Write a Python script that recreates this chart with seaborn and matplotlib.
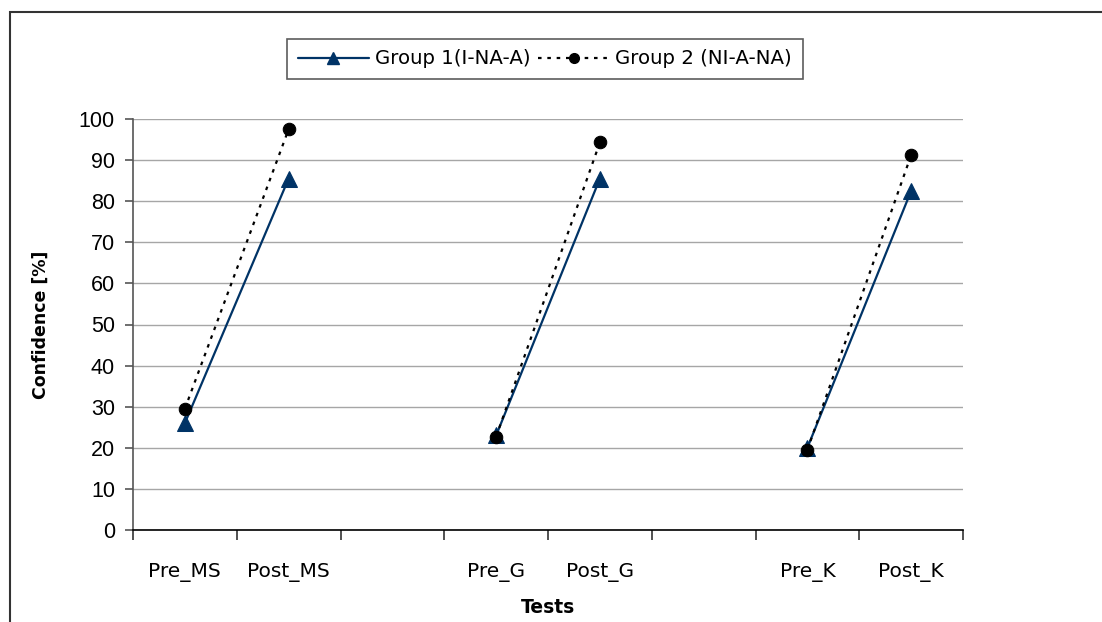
import numpy as np
import pandas as pd
import matplotlib
matplotlib.use("Agg")
import matplotlib.pyplot as plt
import seaborn as sns
from matplotlib.patches import Rectangle
from matplotlib.lines import Line2D

# ---- data ----
categories = ["Pre_MS", "Post_MS", "", "Pre_G", "Post_G", "", "Pre_K", "Post_K"]
group1 = [26.0, 85.5, None, 23.0, 85.5, None, 20.0, 82.5]
group2 = [29.5, 97.5, None, 22.7, 94.3, None, 19.5, 91.2]
series_names = ["Group 1(I-NA-A)", "Group 2 (NI-A-NA)"]
y_ticks = list(range(0, 101, 10))

rows = []
for name, vals in zip(series_names, [group1, group2]):
    for i, v in enumerate(vals):
        if v is None:
            continue
        rows.append(dict(series=name, pos=i, pair=i // 3, value=v))
df = pd.DataFrame(rows)

sns.set_style("white")
plt.rcParams['font.family'] = ['DejaVu Sans']
plt.rcParams['text.color'] = 'black'
plt.rcParams['axes.labelcolor'] = 'black'
plt.rcParams['xtick.color'] = 'black'
plt.rcParams['ytick.color'] = 'black'

fig = plt.figure(figsize=(11.02, 6.22), dpi=100)
ax = fig.add_axes([133/1102, 1 - 530/622, (963-133)/1102, (530-119)/622])

navy = "#003366"
styles = [
    dict(color=navy, linestyle="-", linewidth=1.6, marker="^", markersize=11,
         markerfacecolor=navy, markeredgecolor=navy),
    dict(color="black", linestyle=(0, (1.6, 2.6)), linewidth=1.6, marker="o", markersize=9,
         markerfacecolor="black", markeredgecolor="black"),
]
for name, st in zip(series_names, styles):
    sns.lineplot(data=df[df.series == name], x="pos", y="value", units="pair",
                 estimator=None, ax=ax, legend=False, zorder=3, **st)

ax.set_xlim(-0.5, len(categories) - 0.5)
ax.set_ylim(0, 100)
ax.set_yticks(y_ticks)
ax.set_yticklabels([str(t) for t in y_ticks], family="Liberation Sans", fontsize=15.5,
                   color="black")
ax.yaxis.grid(True, color="#a6a6a6", linewidth=1)
ax.set_axisbelow(True)

ax.set_xticks(range(len(categories)))
ax.set_xticklabels(categories, fontsize=14.5, color="black")
ax.tick_params(axis="x", which="major", bottom=False, length=0, pad=24)
ax.set_xticks(np.arange(-0.5, len(categories), 1.0), minor=True)
ax.tick_params(axis="x", which="minor", bottom=True, length=7, width=1.2,
               color="#333333", direction="out")
ax.tick_params(axis="y", left=True, length=6, width=1.2, color="#555555",
               direction="out", pad=7)

for s in ["top", "right"]:
    ax.spines[s].set_visible(False)
ax.spines["left"].set_color("#555555")
ax.spines["left"].set_linewidth(1.2)
ax.spines["bottom"].set_color("black")
ax.spines["bottom"].set_linewidth(1.2)

ax.set_xlabel("Tests", fontsize=13.5, fontweight="bold", labelpad=11)
ax.set_ylabel("Confidence [%]", fontsize=12.5, fontweight="bold", labelpad=21)

legend_styles = [dict(st, markersize=st["markersize"] - 2) for st in styles]
handles = [Line2D([], [], **st) for st in legend_styles]
leg = fig.legend(handles, series_names, loc="center", bbox_to_anchor=(545/1102, 1 - 59/622),
                 ncol=2, frameon=True, fancybox=False, edgecolor="#333333", fontsize=14.2,
                 handlelength=3.6, handletextpad=0.3, columnspacing=0.4, borderpad=0.55,
                 borderaxespad=0)
leg.get_frame().set_linewidth(1.2)

fig.patches.append(Rectangle((10/1102, -0.1), 1.2, 1.1 - 12/622, transform=fig.transFigure,
                             fill=False, edgecolor="#333333", linewidth=1.5))

fig.savefig("out.png", dpi=100)
